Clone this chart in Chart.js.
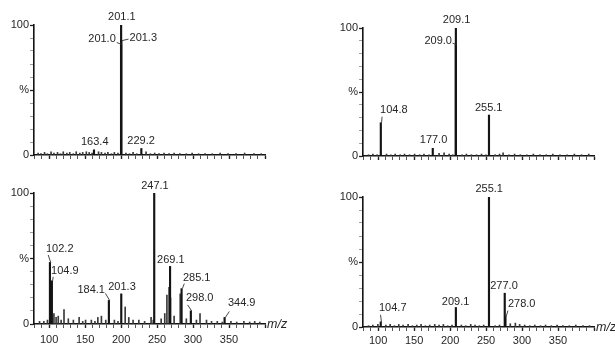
<!DOCTYPE html>
<html>
<head>
<meta charset="utf-8">
<title>MS spectra</title>
<script src="https://cdn.jsdelivr.net/npm/chart.js@4/dist/chart.umd.min.js"></script>
<style>
  html, body { margin: 0; padding: 0; background: #fff; }
  #wrap { position: relative; width: 615px; height: 344px; overflow: hidden; background: #fff; }
  #wrap canvas { position: absolute; }
</style>
</head>
<body>
<div id="wrap">
  <canvas id="specA"></canvas>
  <canvas id="specB"></canvas>
  <canvas id="specC"></canvas>
  <canvas id="specD"></canvas>
</div>
<script>
// ---- labelled peaks (m/z, relative intensity %) ----
const peakMzA  = [163.4, 201.0, 201.1, 201.3, 229.2];
const peakIntA = [4, 85, 100, 88, 5];

const peakMzB  = [104.8, 177.0, 209.0, 209.1, 255.1];
const peakIntB = [26, 6, 87, 100, 32];

const peakMzC  = [102.2, 104.9, 184.1, 201.3, 247.1, 269.1, 285.1, 298.0, 344.9];
const peakIntC = [47, 33, 18, 23, 100, 44, 27, 10, 5];

const peakMzD  = [104.7, 209.1, 255.1, 277.0, 278.0];
const peakIntD = [4, 15, 100, 26, 8];

// ---- unlabelled minor peaks / baseline noise: [m/z, %] ----
const minorA = [[84,1.5],[88,1],[93,2],[97,1],[102,2.5],[106,1.5],[111,2],[115,1],[119,2.5],[124,1.5],
  [128,2],[133,1],[137,2.5],[142,1.5],[146,2],[151,2.5],[155,2],[159,1.5],[168,2.5],[172,2],
  [177,1.5],[181,2],[186,1],[190,2],[195,1.5],[206,1.5],[211,1],[216,2],[221,1],[234,2.5],
  [240,1],[246,1.5],[252,1],[259,1.5],[266,1],[273,1.5],[281,1],[290,1],[298,1.5],[307,1],
  [316,1],[326,1],[337,1.5],[348,1],[359,1],[371,1.5],[384,1],[394,1]];

const minorB = [[86,1],[92,1.5],[98,1],[111,1.5],[117,1],[123,1.5],[130,1],[136,1.5],[143,1],[150,1.5],
  [157,1],[163,1.5],[170,1],[184,2],[191,2.5],[198,1.5],[203,1],[216,1],[222,1.5],[229,1],
  [236,1],[243,1.5],[249,1],[262,1],[268,1.5],[273,2.5],[281,1],[289,1.5],[297,1],[306,1],
  [315,1.5],[324,1],[333,1],[342,1.5],[352,1],[362,1],[372,1.5],[382,1],[392,1.5]];

const minorC = [[86,2],[92,2],[97,3],[106,8],[109,5],[112,6],[116,3],[120,11],[126,4],[133,3],
  [141,5],[146,2],[150,3],[158,3],[163,2],[167,5],[172,6],[178,3],[190,3],[195,2],
  [205,13],[210,5],[216,3],[224,3],[232,2],[241,5],[244,3],[255,4],[260,8],[263,22],
  [266,28],[268,20],[273,6],[281.5,23],[290,4],[304,3],[309,8],[318,3],[325,2],[333,2],
  [340,1.5],[352,2],[360,1.5],[370,2],[378,1.5],[385,2],[392,1.5]];

const minorD = [[86,1],[92,1.5],[99,2],[110,1.5],[116,2],[122,1],[128,2],[134,1.5],[141,2],[147,1],
  [153,1.5],[159,2],[165,1],[171,1.5],[178,2],[184,1.5],[190,2],[196,1],[202,1.5],[215,1.5],
  [221,1],[228,2],[234,1.5],[240,1],[246,1.5],[262,1],[268,1.5],[283,2.5],[290,3],[296,2],
  [303,1.5],[310,1],[317,1.5],[325,1],[332,1.5],[340,1],[348,1.5],[356,1],[365,1],[374,1.5],
  [384,1],[393,1]];

// ---- axis ticks ----
const xRange = [79, 400];
const xTickValues = [80,90,100,110,120,130,140,150,160,170,180,190,200,210,220,230,240,250,
  260,270,280,290,300,310,320,330,340,350,360,370,380,390,400];
const xTickLabels = [100, 150, 200, 250, 300, 350];
const yTickValues = [0,10,20,30,40,50,60,70,80,90,100];
const yTickLabels = { 0: '0', 50: '%', 100: '100' };

// ---- label placement (pixels relative to the peak top) ----
const placeA = {
  '163.4': { align: 'center', dx: 0,    dy: -8 },
  '201.0': { align: 'right',  dx: -6,   dy: -5.5, hook: [-5, -2] },
  '201.1': { align: 'center', dx: 0,    dy: -8 },
  '201.3': { align: 'left',   dx: 7.5,  dy: -2.6, hook: [6.5, -1.5] },
  '229.2': { align: 'center', dx: -1,   dy: -8 }
};
const placeB = {
  '104.8': { align: 'left',   dx: -1.5, dy: -12.5, hook: [0.5, -6] },
  '177.0': { align: 'center', dx: 0,    dy: -8 },
  '209.0': { align: 'right',  dx: -4.6, dy: -3.6, hook: [-4, -1.5] },
  '209.1': { align: 'center', dx: 0,    dy: -8 },
  '255.1': { align: 'center', dx: -1,   dy: -7 }
};
const placeC = {
  '102.2': { align: 'left',   dx: -4.7, dy: -13.4, hook: [-2.5, -7.5] },
  '104.9': { align: 'left',   dx: -1.6, dy: -9.8,  hook: [0.5, -4] },
  '184.1': { align: 'right',  dx: -4.7, dy: -10.4, hook: [-4.2, -7] },
  '201.3': { align: 'center', dx: 0,    dy: -6.5 },
  '247.1': { align: 'center', dx: 0,    dy: -7 },
  '269.1': { align: 'center', dx: 0,    dy: -6.5 },
  '285.1': { align: 'left',   dx: 0.6,  dy: -10.6, hook: [2, -5] },
  '298.0': { align: 'left',   dx: -5.7, dy: -12.6, hook: [-4, -6] },
  '344.9': { align: 'left',   dx: 2.6,  dy: -14.5, hook: [4, -6] }
};
const placeD = {
  '104.7': { align: 'left',   dx: -2.5, dy: -13.8, hook: [-1, -7] },
  '209.1': { align: 'center', dx: -1,   dy: -6 },
  '255.1': { align: 'center', dx: -0.5, dy: -8 },
  '277.0': { align: 'center', dx: -1.5, dy: -7 },
  '278.0': { align: 'left',   dx: 1.7,  dy: -12.6, hook: [1.7, -6] }
};

const INK = '#141414';
const TEXT = '#262626';
const FONT = '"Liberation Sans", Arial, sans-serif';

// peak annotations and the m/z axis title
const peakLabels = {
  id: 'peakLabels',
  afterDatasetsDraw(chart, args, opts) {
    const { ctx, scales: { x, y } } = chart;
    ctx.save();
    ctx.font = '11px ' + FONT;
    ctx.fillStyle = TEXT;
    ctx.strokeStyle = '#333';
    ctx.lineWidth = 0.9;
    ctx.textBaseline = 'middle';
    opts.mz.forEach((mz, i) => {
      const text = mz.toFixed(1);
      const p = opts.place[text] || { align: 'center', dx: 0, dy: -8 };
      const px = x.getPixelForValue(mz);
      const py = y.getPixelForValue(opts.intensity[i]);
      ctx.textAlign = p.align;
      ctx.fillText(text, px + p.dx, py + p.dy);
      if (p.hook) {
        ctx.beginPath();
        ctx.moveTo(px + p.hook[0], py + p.hook[1]);
        ctx.lineTo(px, py);
        ctx.stroke();
      }
    });
    if (opts.showUnit) {
      const a = chart.chartArea;
      ctx.font = 'italic 12.5px ' + FONT;
      ctx.textAlign = 'left';
      ctx.fillText('m/z', a.right + 2, a.bottom + 1);
    }
    ctx.restore();
  }
};

function spectrum(id, geom, peakMz, peakInt, minor, place, bottomRow) {
  const canvas = document.getElementById(id);
  canvas.width = geom.w;
  canvas.height = geom.h;
  canvas.style.left = geom.left + 'px';
  canvas.style.top = geom.top + 'px';

  return new Chart(canvas, {
    type: 'bar',
    data: {
      datasets: [
        {
          data: peakMz.map((m, i) => ({ x: m, y: peakInt[i] })),
          backgroundColor: INK,
          barThickness: 1.5,
          order: 1
        },
        {
          data: minor.map(p => ({ x: p[0], y: p[1] })),
          backgroundColor: '#3a3a3a',
          barThickness: 1,
          order: 2
        }
      ]
    },
    options: {
      responsive: false,
      animation: false,
      devicePixelRatio: 1,
      layout: {
        padding: {
          left: 0,
          top: geom.plotTop - geom.top,
          right: geom.left + geom.w - geom.plotRight,
          bottom: 0
        }
      },
      plugins: {
        legend: { display: false },
        tooltip: { enabled: false },
        peakLabels: { mz: peakMz, intensity: peakInt, place: place, showUnit: bottomRow }
      },
      scales: {
        x: {
          type: 'linear',
          min: xRange[0],
          max: xRange[1],
          offset: false,
          afterBuildTicks: s => { s.ticks = xTickValues.map(v => ({ value: v })); },
          afterFit: s => { s.height = geom.top + geom.h - geom.plotBottom; },
          grid: {
            display: true,
            offset: false,
            drawOnChartArea: false,
            drawTicks: true,
            tickLength: 4,
            tickWidth: c => (c.tick && c.tick.value % 50 === 0) ? 1.4 : 1,
            tickColor: c => (c.tick && c.tick.value % 50 === 0) ? '#222' : '#555'
          },
          border: { display: true, color: INK, width: 1.6 },
          ticks: {
            autoSkip: false,
            maxRotation: 0,
            padding: geom.xPad,
            color: TEXT,
            font: { family: FONT, size: 11 },
            callback: v => (bottomRow && xTickLabels.includes(v)) ? String(v) : ''
          }
        },
        y: {
          min: 0,
          max: 100,
          afterBuildTicks: s => { s.ticks = yTickValues.map(v => ({ value: v })); },
          afterFit: s => { s.width = geom.plotLeft - geom.left; },
          grid: {
            display: true,
            drawOnChartArea: false,
            drawTicks: true,
            tickLength: 4,
            tickWidth: c => (c.tick && c.tick.value % 50 === 0) ? 1.3 : 0.8,
            tickColor: c => (c.tick && c.tick.value % 50 === 0) ? '#222' : '#888'
          },
          border: { display: true, color: INK, width: 1.6 },
          ticks: {
            autoSkip: false,
            padding: 1,
            color: TEXT,
            font: { family: FONT, size: 11 },
            callback: v => (v in yTickLabels) ? yTickLabels[v] : ''
          }
        }
      }
    },
    plugins: [peakLabels]
  });
}

spectrum('specA', { left: 0,   top: 0,   w: 300, h: 172, plotLeft: 34,  plotRight: 265, plotTop: 25,  plotBottom: 155, xPad: 3 },
  peakMzA, peakIntA, minorA, placeA, false);
spectrum('specB', { left: 300, top: 0,   w: 315, h: 172, plotLeft: 363, plotRight: 594, plotTop: 28,  plotBottom: 156, xPad: 3 },
  peakMzB, peakIntB, minorB, placeB, false);
spectrum('specC', { left: 0,   top: 172, w: 300, h: 172, plotLeft: 34,  plotRight: 265, plotTop: 193, plotBottom: 324, xPad: 5 },
  peakMzC, peakIntC, minorC, placeC, true);
spectrum('specD', { left: 300, top: 172, w: 315, h: 172, plotLeft: 363, plotRight: 594, plotTop: 197, plotBottom: 327, xPad: 3 },
  peakMzD, peakIntD, minorD, placeD, true);
</script>
</body>
</html>
